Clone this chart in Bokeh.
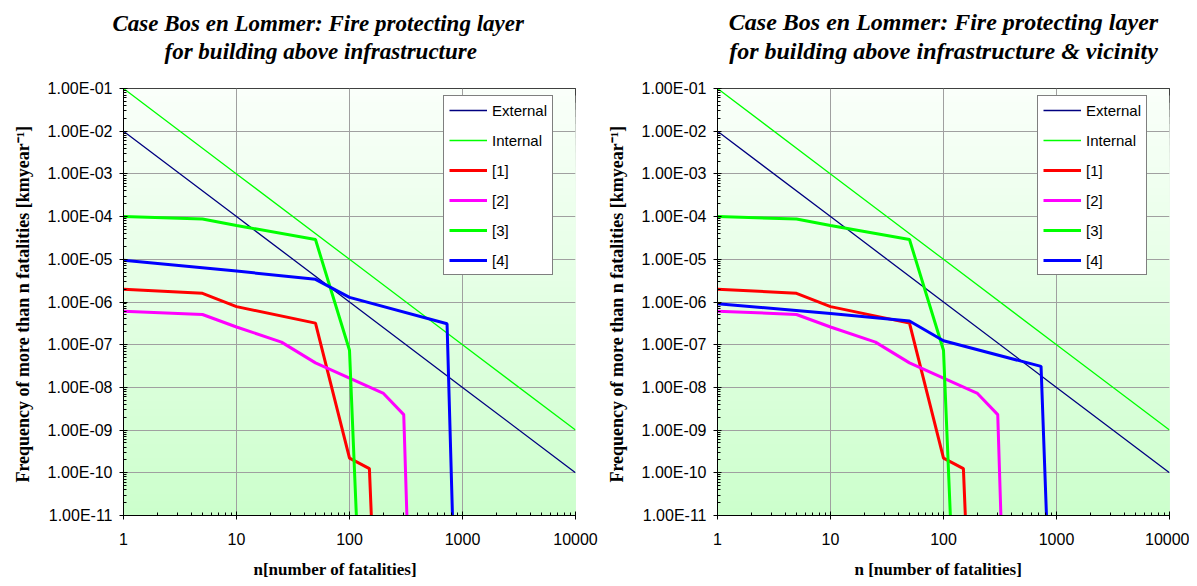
from bokeh.plotting import figure
from bokeh.layouts import row
from bokeh.models import (Range1d, FixedTicker, CustomJSTickFormatter, Legend,
                          LegendItem, Title, BoxAnnotation)
from bokeh.embed import file_html
from bokeh.resources import INLINE

# ---------------- data ----------------
n_ref = [1, 10, 100, 1000, 10000]
external_f = [1e-2, 1e-4, 1e-6, 1e-8, 1e-10]
internal_f = [1e-1, 1e-3, 1e-5, 1e-7, 1e-9]

n_1 = [1, 5, 10, 50, 100, 150, 156]
f_1 = [2.0e-6, 1.6e-6, 7.8e-7, 3.2e-7, 2.2e-10, 1.25e-10, 1e-11]

n_2 = [1, 5, 10, 25, 50, 200, 302, 322]
f_2 = [6.1e-7, 5.1e-7, 2.6e-7, 1.15e-7, 3.75e-8, 7.2e-9, 2.3e-9, 1e-11]

n_3 = [1, 5, 10, 50, 100, 115]
f_3 = [1.0e-4, 8.8e-5, 6.2e-5, 2.9e-5, 7.4e-8, 1e-11]

n_4 = [1, 10, 50, 100, 730, 815]
f_4_left = [9.5e-6, 5.3e-6, 3.4e-6, 1.28e-6, 3.1e-7, 1e-11]
f_4_right = [9.1e-7, 5.4e-7, 3.6e-7, 1.24e-7, 3.1e-8, 1e-11]

x_ticks = [1, 10, 100, 1000, 10000]
y_ticks = [1e-11, 1e-10, 1e-9, 1e-8, 1e-7, 1e-6, 1e-5, 1e-4, 1e-3, 1e-2, 1e-1]

legend_labels = ["External", "Internal", "[1]", "[2]", "[3]", "[4]"]
series_colors = ["#000080", "#00ff00", "#ff0000", "#ff00ff", "#00ff00", "#0000ff"]

title_left = ["Case Bos en Lommer: Fire protecting layer", "for building above infrastructure"]
title_right = ["Case Bos en Lommer: Fire protecting layer", "for building above infrastructure & vicinity"]
xlabel_left = "n[number of fatalities]"
xlabel_right = "n [number of fatalities]"
ylabel = "Frequency of more than n  fatalities [kmyear\u207b\u00b9]"

x_minor = [m * 10 ** e for e in range(0, 4) for m in range(2, 10)]
y_minor = [m * 10.0 ** e for e in range(-11, -1) for m in range(2, 10)]

FW, FH = 452, 427

ytick_code = """
const s = tick.toExponential(2).toUpperCase();
const parts = s.split("E");
const e = parts[1];
const sign = e[0];
let d = e.slice(1);
if (d.length < 2) { d = "0" + d; }
return parts[0] + "E" + sign + d;
"""

TFONT = "Liberation Serif"


def make_fig(titles, title_offsets, title_size, xlabel, xlabel_offset, f4, left_border, right_border):
    p = figure(x_axis_type="log", y_axis_type="log",
               x_range=Range1d(1, 10000), y_range=Range1d(1e-11, 1e-1),
               frame_width=FW, frame_height=FH,
               min_border_left=left_border, min_border_right=right_border,
               min_border_top=88, min_border_bottom=10,
               output_backend="svg", toolbar_location=None,
               background_fill_color="white", border_fill_color="white",
               outline_line_color="black", outline_line_width=1)

    # gradient background (top pale -> bottom light green)
    nb = 60
    for i in range(nb - 1, -1, -1):
        top = 10 ** (-11 + 10 * (i + 1) / nb)
        frac = (i + 0.5) / nb
        c = int(round(204 + (250 - 204) * frac))
        p.add_layout(BoxAnnotation(top=top, fill_color=(c, 255, c), fill_alpha=1.0,
                                   line_alpha=0, level="image"))

    xt = FixedTicker(ticks=x_ticks, minor_ticks=x_minor)
    yt = FixedTicker(ticks=y_ticks, minor_ticks=y_minor)
    xa = p.xaxis[0]
    ya = p.yaxis[0]
    xa.ticker = xt
    ya.ticker = yt
    p.xgrid[0].ticker = xt
    p.ygrid[0].ticker = yt
    xa.formatter = CustomJSTickFormatter(code="return tick.toFixed(0);")
    ya.formatter = CustomJSTickFormatter(code=ytick_code)
    for ax in (xa, ya):
        ax.axis_line_color = "black"
        ax.major_tick_line_color = "black"
        ax.minor_tick_line_color = "black"
        ax.major_tick_in = 4
        ax.major_tick_out = 4
        ax.minor_tick_in = 3
        ax.minor_tick_out = 0
        ax.major_label_text_font = "Liberation Sans"
        ax.major_label_text_font_size = "16px"
        ax.major_label_text_color = "black"
    xa.major_label_standoff = 13
    ya.major_label_standoff = 7
    ya.axis_label = ylabel
    ya.axis_label_text_font = TFONT
    ya.axis_label_text_font_style = "bold"
    ya.axis_label_text_font_size = "18px"
    ya.axis_label_text_color = "black"
    ya.axis_label_standoff = 12

    for g in (p.xgrid[0], p.ygrid[0]):
        g.grid_line_color = "#a0a0a0"
        g.grid_line_width = 1

    xs = [n_ref, n_ref, n_1, n_2, n_3, n_4]
    ys = [external_f, internal_f, f_1, f_2, f_3, f4]
    widths = [1.3, 1.3, 3, 3, 3, 3]
    rends = []
    for x, y, col, w in zip(xs, ys, series_colors, widths):
        rends.append(p.line(x, y, line_color=col, line_width=w))

    legend = Legend(items=[LegendItem(label=l, renderers=[r]) for l, r in zip(legend_labels, rends)],
                    location=(320, 240), orientation="vertical",
                    border_line_color="black", border_line_width=1,
                    background_fill_color="white", background_fill_alpha=1.0,
                    padding=5, spacing=12, label_height=18, glyph_height=18,
                    glyph_width=38, label_standoff=5, margin=0,
                    label_text_font="Liberation Sans", label_text_font_size="15px",
                    label_text_color="black")
    p.add_layout(legend)

    # titles: spacer, line 2 (closest to frame), line 1 (outermost)
    p.add_layout(Title(text="\u00a0", text_font_size="17px", standoff=2,
                       text_color="white"), "above")
    for txt, off, st in [(titles[1], title_offsets[1], 3), (titles[0], title_offsets[0], 0)]:
        kw = dict(align="left", offset=off) if off is not None else dict(align="center")
        p.add_layout(Title(text=txt, text_font=TFONT, text_font_style="bold italic",
                           text_font_size=title_size, text_color="black", standoff=st, **kw),
                     "above")
    # x-axis label: small spacer, then a positioned title below the axis
    p.add_layout(Title(text="\u00a0", text_font_size="8px", standoff=1,
                       text_color="white"), "below")
    p.add_layout(Title(text=xlabel, align="left", offset=xlabel_offset, vertical_align="top",
                       text_font=TFONT, text_font_style="bold", text_font_size="17px",
                       text_color="black", standoff=0), "below")
    return p


p1 = make_fig(title_left, (-11, 41), "23px", xlabel_left, 130, f_4_left, 123, 27)
p2 = make_fig(title_right, (None, None), "24px", xlabel_right, 137, f_4_right, 115, 20)
layout = row(p1, p2, spacing=0)

open("out.html", "w").write(file_html(layout, INLINE))
